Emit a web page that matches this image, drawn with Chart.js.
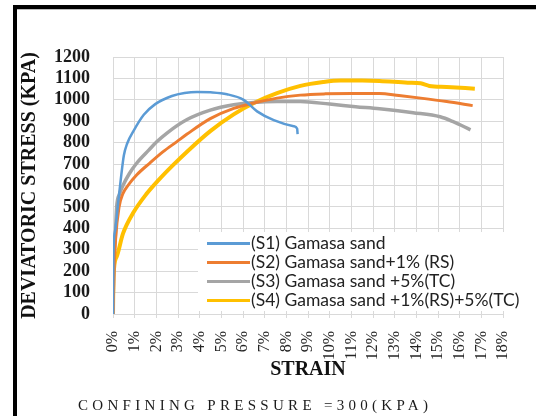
<!DOCTYPE html>
<html>
<head>
<meta charset="utf-8">
<script src="https://cdn.jsdelivr.net/npm/chart.js@4.4.1/dist/chart.umd.min.js"></script>
<style>
  html, body { margin: 0; padding: 0; background: #fff; }
  #wrap { position: relative; width: 536px; height: 416px; }
  #frame { position: absolute; left: 13px; top: 5px; right: 0; bottom: 0;
           border-left: 4px solid #000; border-top: 4px solid #000; pointer-events: none; }
  #frame::after { content: ''; position: absolute; left: 0; right: 0; top: 0; height: 1px; background: #bbb; }
</style>
</head>
<body>
<div id="wrap"><canvas id="chart" width="536" height="416"></canvas><div id="frame"></div></div>
<script>
// strain in %, deviatoric stress in kPa
const labels = ['(S1) Gamasa sand', '(S2) Gamasa sand+1% (RS)', '(S3) Gamasa sand +5%(TC)', '(S4) Gamasa sand +1%(RS)+5%(TC)'];
const colors = ['#5B9BD5', '#ED7D31', '#A5A5A5', '#FFC000'];
const widths = [2.5, 3, 3.5, 4];

const strainS1 = [0, 0.02, 0.1, 0.25, 0.35, 0.5, 0.65, 0.95, 1.42, 1.95, 2.72, 3.3, 3.88, 4.5, 5.26, 6.03, 6.65, 7.42, 8.34, 8.5, 8.52];
const stressS1 = [0, 280, 390, 530, 620, 740, 795, 855, 930, 980, 1018, 1032, 1037, 1035, 1026, 1000, 946, 905, 877, 865, 840];

const strainS2 = [0, 0.05, 0.12, 0.28, 0.45, 0.69, 1.1, 1.7, 2.3, 2.95, 3.42, 4.49, 5.57, 6.5, 7.57, 8.65, 9.8, 11.0, 12.3, 13.2, 14.2, 15.4, 16.6];
const stressS2 = [0, 200, 350, 500, 560, 600, 650, 705, 757, 805, 840, 912, 960, 985, 1008, 1022, 1028, 1030, 1030, 1020, 1008, 992, 973];

const strainS3 = [0, 0.03, 0.1, 0.17, 0.3, 0.46, 0.75, 1.1, 1.65, 2.03, 2.49, 3.42, 4.49, 5.57, 6.5, 7.57, 8.65, 10.0, 11.2, 12.3, 13.85, 15.1, 15.7, 16.5];
const stressS3 = [0, 200, 350, 500, 560, 600, 655, 705, 765, 805, 845, 908, 952, 977, 988, 992, 992, 980, 968, 958, 940, 921, 898, 860];

const strainS4 = [0, 0.02, 0.16, 0.46, 0.92, 1.54, 2.1, 2.77, 3.49, 4.49, 5.57, 6.5, 7.57, 8.65, 9.7, 10.5, 11.5, 12.3, 13.6, 14.2, 14.6, 15.4, 16.7];
const stressS4 = [0, 170, 265, 375, 470, 560, 625, 695, 765, 854, 932, 985, 1031, 1065, 1083, 1090, 1090, 1088, 1080, 1077, 1065, 1060, 1052];

const strains = [strainS1, strainS2, strainS3, strainS4];
const stresses = [stressS1, stressS2, stressS3, stressS4];

const datasets = labels.map((lab, i) => ({
    label: lab,
    data: strains[i].map((x, j) => ({ x: x, y: stresses[i][j] })),
    borderColor: colors[i],
    backgroundColor: colors[i],
    borderWidth: widths[i],
    pointRadius: 0,
    fill: false,
    cubicInterpolationMode: 'monotone'
}));

// legend sitting inside the plot, like the excel one
const legendBox = {
    id: 'legendBox',
    beforeDatasetsDraw(chart) {
        const ctx = chart.ctx;
        ctx.save();
        ctx.fillStyle = '#fff';
        ctx.fillRect(198, 232, 338, 79);
        ctx.font = '17.5px Lato';
        ctx.textBaseline = 'middle';
        chart.data.datasets.forEach((ds, i) => {
            const y = 243.5 + i * 19;
            ctx.strokeStyle = ds.borderColor;
            ctx.lineWidth = 3;
            ctx.beginPath();
            ctx.moveTo(207, y);
            ctx.lineTo(250, y);
            ctx.stroke();
            ctx.fillStyle = '#222';
            ctx.fillText(ds.label, 251, y);
        });
        ctx.restore();
    }
};

const footNote = {
    id: 'footNote',
    afterDraw(chart) {
        const ctx = chart.ctx;
        ctx.save();
        ctx.font = '15px "Liberation Serif"';
        ctx.letterSpacing = '4.3px';
        ctx.fillStyle = '#1a1a1a';
        ctx.textBaseline = 'alphabetic';
        ctx.fillText('CONFINING PRESSURE =300(KPA)', 78, 410);
        ctx.restore();
    }
};

new Chart(document.getElementById('chart'), {
    type: 'line',
    data: { datasets: datasets },
    options: {
        responsive: false,
        animation: false,
        layout: { padding: { left: 0, top: 57, right: 33, bottom: 32 } },
        plugins: { legend: { display: false }, tooltip: { enabled: false } },
        scales: {
            x: {
                type: 'linear', min: 0, max: 18,
                grid: { color: '#d9d9d9', tickLength: 4, tickColor: '#d9d9d9' },
                border: { color: '#d9d9d9' },
                ticks: {
                    stepSize: 1, autoSkip: false, minRotation: 90, maxRotation: 90, padding: 13,
                    color: '#262626', font: { family: 'Liberation Serif', size: 16 },
                    callback: v => v + '%'
                },
                title: { display: true, text: 'STRAIN', color: '#111', padding: { top: 0, bottom: 2 },
                         font: { family: 'Liberation Serif', size: 20, weight: 'bold' } },
                afterFit: s => { s.height = 70; s.paddingLeft = 0; s.paddingRight = 0; }
            },
            y: {
                min: 0, max: 1200,
                grid: { color: '#d9d9d9', drawTicks: false },
                border: { color: '#d9d9d9' },
                ticks: { stepSize: 100, autoSkip: false, padding: 23, color: '#1a1a1a',
                         font: { family: 'Liberation Serif', size: 18, weight: 'bold' },
                         callback: v => String(v) },
                title: { display: true, text: 'DEVIATORIC STRESS (KPA)', color: '#111', padding: { top: 18, bottom: 0 },
                         font: { family: 'Liberation Serif', size: 20, weight: 'bold' } },
                afterFit: s => { s.width = 113; }
            }
        }
    },
    plugins: [legendBox, footNote]
});
</script>
</body>
</html>
